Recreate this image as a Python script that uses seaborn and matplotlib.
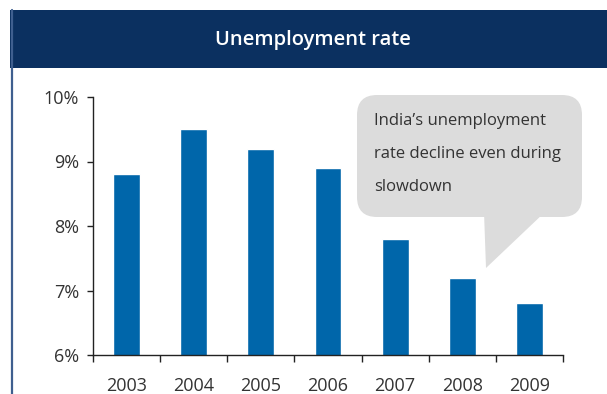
import matplotlib
matplotlib.use("Agg")
import matplotlib.pyplot as plt
import seaborn as sns
import pandas as pd
from matplotlib.patches import Rectangle, FancyBboxPatch, Polygon
from matplotlib.lines import Line2D
from matplotlib.ticker import FixedLocator, FuncFormatter

years = ["2003", "2004", "2005", "2006", "2007", "2008", "2009"]
rates = [8.8, 9.5, 9.2, 8.9, 7.8, 7.2, 6.8]
y_ticks = [6, 7, 8, 9, 10]
title = "Unemployment rate"
note_lines = ["India\u2019s unemployment", "rate decline even during", "slowdown"]

sns.set_theme(style="white")
plt.rcParams["font.family"] = ["Open Sans", "DejaVu Sans"]

W, H = 607, 394
fig = plt.figure(figsize=(W / 100, H / 100), dpi=100, facecolor="white")


def fx(px):
    return px / W


def fy(py):
    return 1 - py / H


# header band and frame line
fig.patches.append(Rectangle((fx(10), fy(68)), fx(W - 10), 58 / H,
                             transform=fig.transFigure, facecolor="#0b3060",
                             edgecolor="none", zorder=0))
fig.lines.append(Line2D([fx(12), fx(12)], [fy(10), fy(H)],
                        transform=fig.transFigure, color="#3f5f8f", lw=1.6))
fig.text(fx(313), fy(40), title, color="white", fontsize=14.5, fontweight="semibold",
         ha="center", va="center")

ax = fig.add_axes([fx(93), fy(355), fx(563 - 93), (355 - 97) / H])
df = pd.DataFrame({"year": years, "rate": rates})
sns.barplot(data=df, x="year", y="rate", color="#0066aa", saturation=1,
            width=0.4, ax=ax, zorder=2)

ax.set_ylim(6, 10)
ax.set_xlim(-0.5, len(years) - 0.5)
ax.set_yticks(y_ticks)
ax.yaxis.set_major_formatter(FuncFormatter(lambda v, p: f"{v:.0f}%"))
ax.set_xlabel("")
ax.set_ylabel("")
ax.set_facecolor("white")
for s in ["top", "right"]:
    ax.spines[s].set_visible(False)
for s in ["left", "bottom"]:
    ax.spines[s].set_color("#222222")
    ax.spines[s].set_linewidth(1.0)

ax.tick_params(axis="y", which="major", left=True, length=4, width=1,
               color="#222222", labelsize=13, labelcolor="#333333", pad=6)
ax.tick_params(axis="x", which="major", bottom=False, labelsize=13,
               labelcolor="#333333", pad=10)
ax.xaxis.set_minor_locator(FixedLocator([i - 0.5 for i in range(len(years) + 1)]))
ax.tick_params(axis="x", which="minor", bottom=True, length=5, width=1,
               color="#222222", direction="out")

# speech bubble
bubble_kw = dict(transform=fig.transFigure, facecolor="#dcdcdc",
                 edgecolor="none", zorder=5, clip_on=False)
box = FancyBboxPatch((fx(357), fy(217)), fx(582 - 357), (217 - 95) / H,
                     boxstyle="round,pad=0,rounding_size=0.033",
                     mutation_aspect=W / H, **bubble_kw)
fig.patches.append(box)
tail = Polygon([(fx(484), fy(212)), (fx(545), fy(212)), (fx(486), fy(268))],
               closed=True, **bubble_kw)
fig.patches.append(tail)
for i, line in enumerate(note_lines):
    fig.text(fx(374), fy(121 + 33 * i), line, fontsize=12, color="#333333",
             ha="left", va="center", zorder=6)

fig.savefig("out.png", dpi=100, facecolor="white")
